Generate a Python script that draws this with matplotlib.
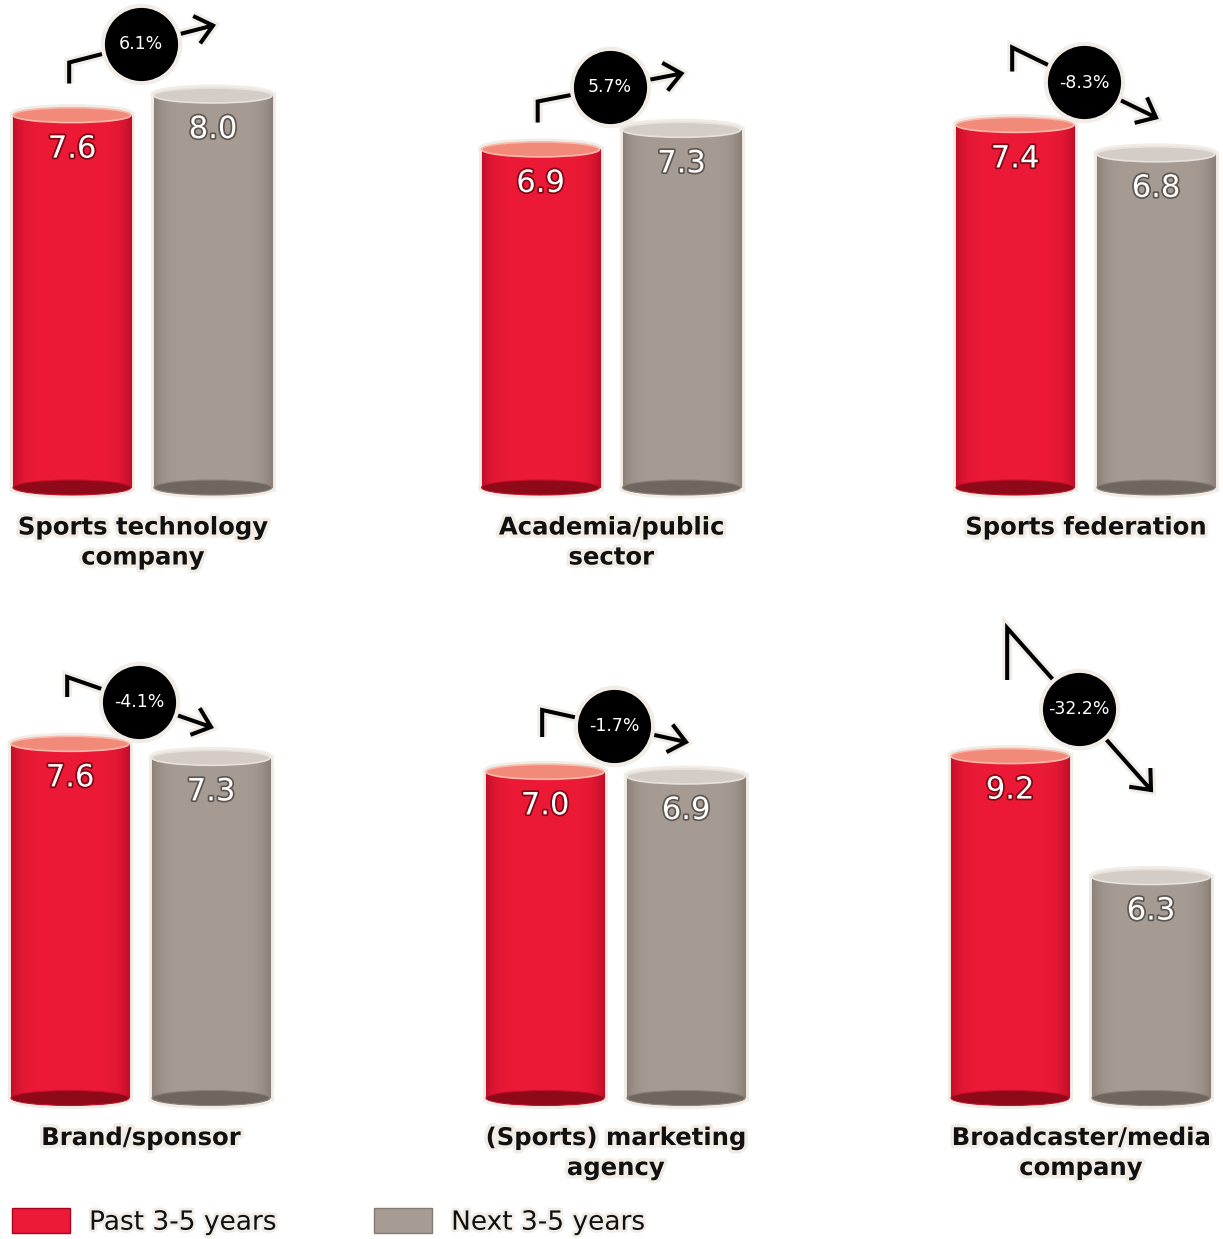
import numpy as np
import matplotlib
matplotlib.use('Agg')
import matplotlib.pyplot as plt
import matplotlib.patheffects as pe
from matplotlib.patches import Rectangle, Ellipse, Patch

categories = ['Sports technology\ncompany', 'Academia/public\nsector', 'Sports federation',
              'Brand/sponsor', '(Sports) marketing\nagency', 'Broadcaster/media\ncompany']
past = [7.6, 6.9, 7.4, 7.6, 7.0, 9.2]
future = [8.0, 7.3, 6.8, 7.3, 6.9, 6.3]
changes = ['6.1%', '5.7%', '-8.3%', '-4.1%', '-1.7%', '-32.2%']
series_names = ['Past 3-5 years', 'Next 3-5 years']

W, H = 1223, 1239
HALO = '#F2ECE6'
# body, side shade, top, top rim, bottom, text shadow
RED = ('#EC1A37', '#C20F29', '#F28A7A', '#F8B9AC', '#8E0A18', '#7E0914')
GRAY = ('#A79C93', '#8C8178', '#D4CDC7', '#E6E1DC', '#6E665F', '#5E5751')

# panel layout in pixels: red bar centre, baseline, top of panel, px per unit, axis floor,
# arrow (start, elbow, tip) heights above the baseline
layout = [
    dict(x=72, base=487.5, top=0, ppu=49.0, floor=0.0, arrow=(404, 425, 462)),
    dict(x=540.5, base=487.5, top=0, ppu=49.0, floor=0.0, arrow=(365, 386, 414)),
    dict(x=1015, base=487.5, top=0, ppu=49.0, floor=0.0, arrow=(416, 440, 370)),
    dict(x=70, base=1098, top=590, ppu=46.6, floor=0.0, arrow=(401, 421, 371)),
    dict(x=545, base=1098, top=590, ppu=46.6, floor=0.0, arrow=(361, 388, 356)),
    dict(x=1010, base=1098, top=590, ppu=41.7, floor=1.0, arrow=(418, 470, 308)),
]
STEP = 141.0          # px between bar centres
BAR_W = 118 / STEP    # bar width in category units
HEAD_LEN = 22         # chevron arm length, px
HEAD_ANG = np.radians(40)

fig = plt.figure(figsize=(W / 100, H / 100), dpi=100)
fig.patch.set_facecolor('white')


def cylinder(ax, xc, val, floor, ppu, pal):
    body, side, top, rim, bottom, _ = pal
    eh = 15 / ppu
    x0 = xc - BAR_W / 2
    # light halo behind the whole cylinder
    for p in (Rectangle((x0, floor), BAR_W, val - floor),
              Ellipse((xc, val), BAR_W, eh), Ellipse((xc, floor), BAR_W, eh)):
        p.set(facecolor=HALO, edgecolor=HALO, linewidth=5, zorder=1, clip_on=False)
        ax.add_patch(p)
    # shaded body
    t = np.linspace(-1, 1, 200)
    f = np.abs(t) ** 6
    c0 = np.array(matplotlib.colors.to_rgb(body))
    c1 = np.array(matplotlib.colors.to_rgb(side))
    img = (c0[None, :] * (1 - f[:, None]) + c1[None, :] * f[:, None])[None, :, :]
    rect = Rectangle((x0, floor), BAR_W, val - floor, facecolor='none',
                     edgecolor=side, linewidth=0.8, zorder=2)
    ax.add_patch(rect)
    im = ax.imshow(img, extent=(x0, x0 + BAR_W, floor, val), aspect='auto',
                   interpolation='bilinear', zorder=2)
    im.set_clip_path(rect)
    ax.add_patch(Ellipse((xc, floor), BAR_W, eh, facecolor=bottom, edgecolor=side,
                         linewidth=0.8, zorder=3, clip_on=False))
    ax.add_patch(Ellipse((xc, val), BAR_W, eh, facecolor=top, edgecolor=rim,
                         linewidth=1.2, zorder=3))


for i, lay in enumerate(layout):
    ppu, floor = lay['ppu'], lay['floor']
    height_px = lay['base'] - lay['top']
    ax = fig.add_axes([(lay['x'] - STEP / 2) / W, 1 - lay['base'] / H,
                       2 * STEP / W, height_px / H])
    ax.axis('off')

    for xc, val, pal in ((0, past[i], RED), (1, future[i], GRAY)):
        cylinder(ax, xc, val, floor, ppu, pal)
        ax.annotate(f'{val:.1f}', xy=(xc, val), xytext=(0, -24.5), textcoords='offset points',
                    ha='center', va='center', color='white', fontsize=22, zorder=5,
                    path_effects=[pe.withStroke(linewidth=2.5, foreground=pal[5])])

    # category label under the pair
    for j, line in enumerate(categories[i].split('\n')):
        ax.annotate(line, xy=(0.5, floor), xytext=(0, -(40 + 30 * j) * 0.72),
                    textcoords='offset points', ha='center', va='center',
                    fontsize=17.5, fontweight='bold', color='#111111',
                    annotation_clip=False,
                    path_effects=[pe.withStroke(linewidth=5, foreground=HALO)])

    ax.set_xlim(-0.5, 1.5)
    ax.set_ylim(floor, floor + height_px / ppu)

    # change arrow: short riser, slanted run to the tip, open chevron head
    ys, ye, yt = [floor + h / ppu for h in lay['arrow']]
    xs = -0.02
    tip = ax.transData.transform((1, yt))
    elbow = ax.transData.transform((xs, ye))
    back = (elbow - tip) / np.hypot(*(elbow - tip))
    arms = []
    for a in (HEAD_ANG, -HEAD_ANG):
        rot = np.array([[np.cos(a), -np.sin(a)], [np.sin(a), np.cos(a)]])
        arms.append(ax.transData.inverted().transform(tip + HEAD_LEN * rot @ back))
    px = [xs, xs, 1, np.nan, arms[0][0], 1, arms[1][0]]
    py = [ys, ye, yt, np.nan, arms[0][1], yt, arms[1][1]]
    ax.plot(px, py, color='black', lw=2.9, solid_joinstyle='miter',
            solid_capstyle='butt', zorder=6, clip_on=False,
            path_effects=[pe.Stroke(linewidth=7, foreground=HALO), pe.Normal()])

    mx, my = (xs + 1) / 2, (ye + yt) / 2
    ax.scatter([mx], [my], s=3100, c='black', edgecolors=HALO, linewidths=3,
               zorder=7, clip_on=False)
    ax.text(mx, my, changes[i], color='white', fontsize=12.5, ha='center', va='center',
            zorder=8)

handles = [Patch(facecolor=RED[0], edgecolor='#A5061E', linewidth=1),
           Patch(facecolor=GRAY[0], edgecolor='#857A71', linewidth=1)]
leg = fig.legend(handles=handles, labels=series_names, loc='center left',
                 bbox_to_anchor=(12 / W, 1 - 1222 / H), ncol=2, frameon=False,
                 fontsize=19, handlelength=2.2, handleheight=1.06, handletextpad=0.72,
                 columnspacing=3.7, borderpad=0, borderaxespad=0)
for txt in leg.get_texts():
    txt.set_color('#111111')
    txt.set_path_effects([pe.withStroke(linewidth=4, foreground=HALO)])

fig.savefig('out.png', dpi=100, facecolor='white')
